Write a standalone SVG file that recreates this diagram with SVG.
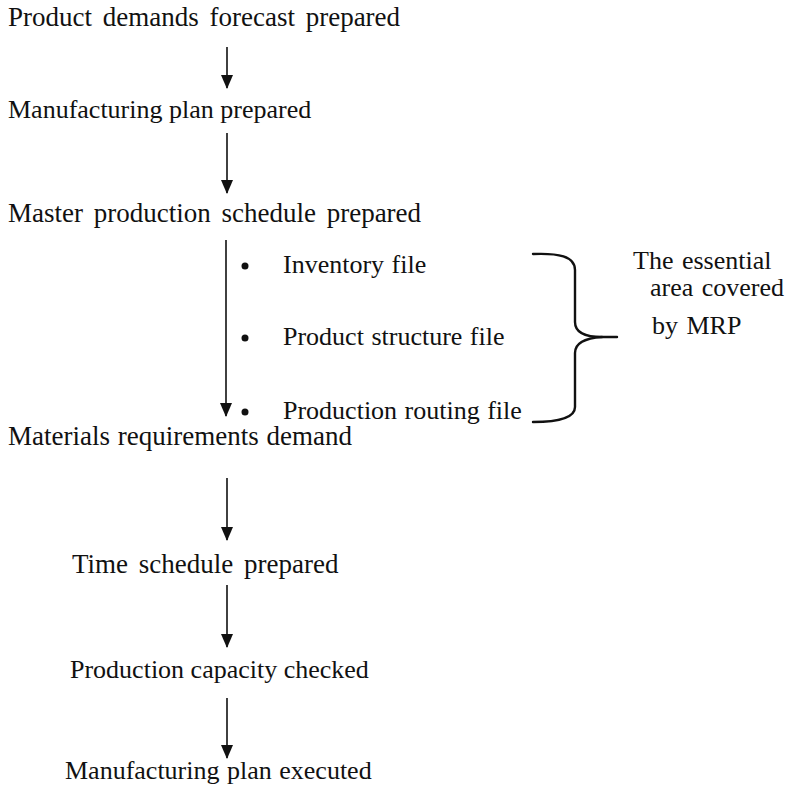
<svg xmlns="http://www.w3.org/2000/svg" width="800" height="786" viewBox="0 0 800 786">
  <defs>
    <marker id="head" markerWidth="14" markerHeight="12" refX="13" refY="6" orient="auto" markerUnits="userSpaceOnUse" viewBox="0 0 14 12">
      <path d="M0,0 L14,6 L0,12 Z" fill="#111"/>
    </marker>
    <style>
      text { font-family: "Liberation Serif", "Times New Roman", serif; fill: #111; }
      .step { font-size: 27px; word-spacing: 4px; }
      .small { font-size: 26px; }
      .tight { word-spacing: 0px; }
      .item { font-size: 26px; word-spacing: 1px; }
      .note { font-size: 26px; word-spacing: 2px; }
      .flow { stroke: #111; stroke-width: 1.6; fill: none; }
      .brace { stroke: #111; stroke-width: 2.4; fill: none; stroke-linecap: round; }
      .dot { fill: #111; }
    </style>
  </defs>

  <rect width="800" height="786" fill="#fff"/>

  <!-- arrows between steps -->
  <g id="connectors">
    <line class="flow" x1="227" y1="47" x2="227" y2="88" marker-end="url(#head)"/>
    <line class="flow" x1="227" y1="133" x2="227" y2="193" marker-end="url(#head)"/>
    <line class="flow" x1="226" y1="240" x2="226" y2="416" marker-end="url(#head)"/>
    <line class="flow" x1="227" y1="478" x2="227" y2="540" marker-end="url(#head)"/>
    <line class="flow" x1="227" y1="585" x2="227" y2="647" marker-end="url(#head)"/>
    <line class="flow" x1="227" y1="698" x2="227" y2="758" marker-end="url(#head)"/>
  </g>

  <g id="forecast"><text class="step" x="8" y="26">Product demands forecast prepared</text></g>
  <g id="manufacturing-plan"><text class="step small tight" x="8" y="118">Manufacturing plan prepared</text></g>
  <g id="master-schedule"><text class="step" x="8" y="222">Master production schedule prepared</text></g>

  <!-- MRP input files -->
  <g id="mrp-files">
    <circle class="dot" cx="245" cy="266" r="3.5"/>
    <text class="item" x="283" y="273">Inventory file</text>
    <circle class="dot" cx="245" cy="338" r="3.5"/>
    <text class="item" x="283" y="345">Product structure file</text>
    <circle class="dot" cx="245" cy="412" r="3.5"/>
    <text class="item" x="283" y="419">Production routing file</text>
  </g>

  <!-- curly brace grouping the files -->
  <g id="brace">
    <path class="brace" d="M533,254 C558,253 575,256 575,270 L575,322 C575,333 587,337 602,337 L617,337"/>
    <path class="brace" d="M602,337 C587,338 575,342 575,353 L575,407 C575,418 558,422 533,422"/>
  </g>

  <g id="mrp-note">
    <text class="note" x="633" y="269">The essential</text>
    <text class="note" x="650" y="296">area covered</text>
    <text class="note" x="652" y="334">by MRP</text>
  </g>

  <g id="materials-demand"><text class="step" x="8" y="445" style="word-spacing:1px">Materials requirements demand</text></g>
  <g id="time-schedule"><text class="step" x="72" y="573">Time schedule prepared</text></g>
  <g id="capacity-check"><text class="step small tight" x="70" y="678">Production capacity checked</text></g>
  <g id="plan-executed"><text class="step small" x="65" y="779" style="word-spacing:1px">Manufacturing plan executed</text></g>
</svg>
